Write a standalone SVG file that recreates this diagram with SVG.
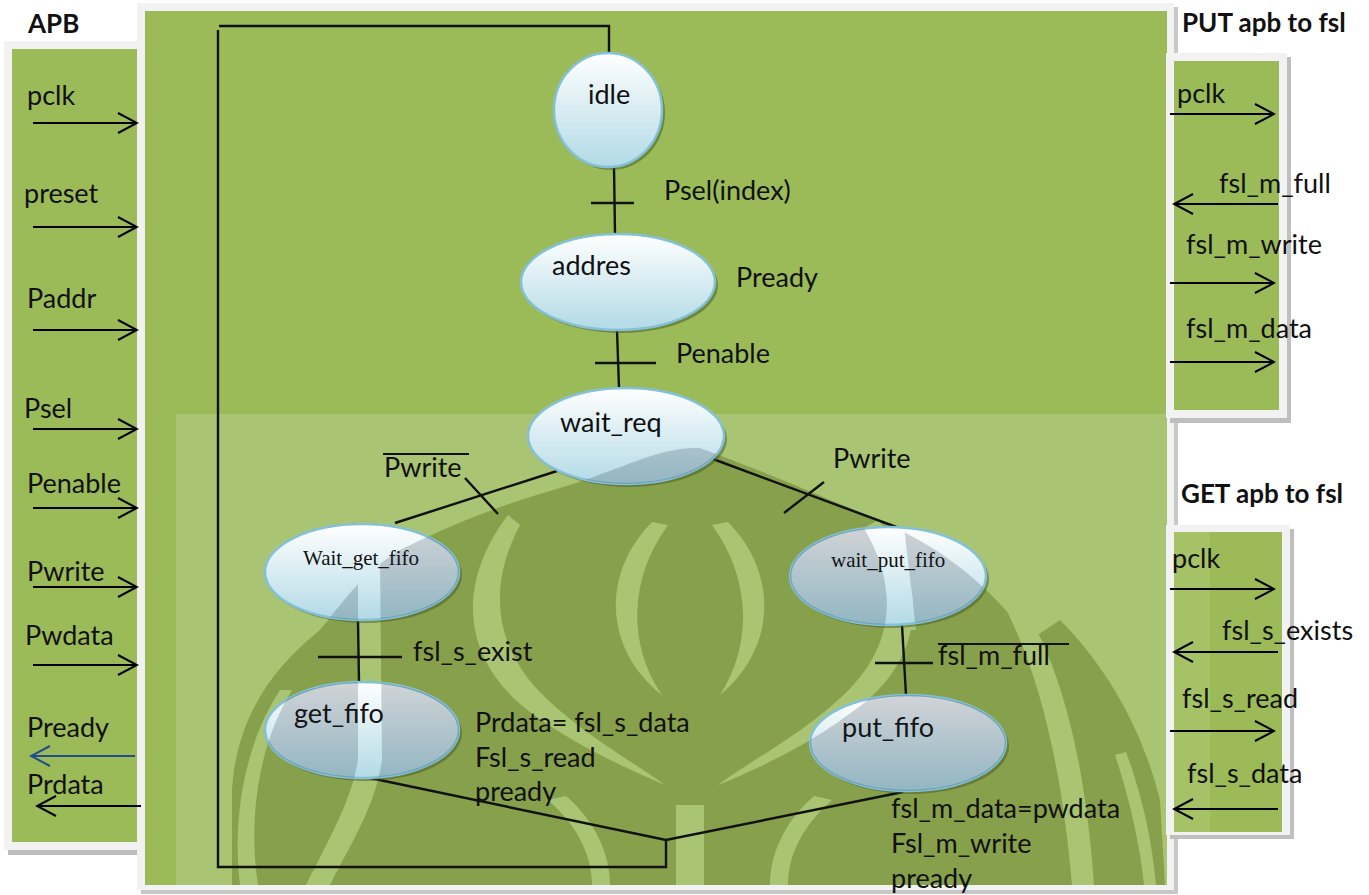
<svg xmlns="http://www.w3.org/2000/svg" width="1369" height="895" viewBox="0 0 1369 895">
  <defs>
    <style>
      .lbl{font-family:Lato,'Liberation Sans',sans-serif;font-size:27px;fill:#111}
      .ttl{font-family:Lato,'Liberation Sans',sans-serif;font-size:26px;font-weight:bold;fill:#111}
      .ser{font-family:'Liberation Serif','Times New Roman',serif;font-size:21px;fill:#111}
      .wire{stroke:#111;stroke-width:2.4;fill:none}
      .sig{stroke:#000;stroke-width:2;fill:none;marker-end:url(#arrowBlack)}
      .sigBlue{stroke:#1f4e8c;stroke-width:2;fill:none;marker-end:url(#arrowBlue)}
      .state{fill:url(#stateFill);stroke:#84c1d7;stroke-width:2.5}
      .shadow{fill:#4c5f26;opacity:.55}
      .over{stroke:#111;stroke-width:2}
    </style>
    <linearGradient id="stateFill" x1="0" y1="0" x2="0" y2="1">
      <stop offset="0" stop-color="#ffffff"/>
      <stop offset="1" stop-color="#b2dae6"/>
    </linearGradient>
    <marker id="arrowBlack" viewBox="-1 -1 22 22" refX="19" refY="10" markerWidth="22" markerHeight="22" markerUnits="userSpaceOnUse" orient="auto">
      <path d="M0,0 L19,10 L0,20" fill="none" stroke="#000" stroke-width="2"/>
    </marker>
    <marker id="arrowBlue" viewBox="-1 -1 22 22" refX="19" refY="10" markerWidth="22" markerHeight="22" markerUnits="userSpaceOnUse" orient="auto">
      <path d="M0,0 L19,10 L0,20" fill="none" stroke="#1f4e8c" stroke-width="2"/>
    </marker>
    <!-- emblem watermark: dark body with light bands cut out -->
    <mask id="wmMask" maskUnits="userSpaceOnUse" x="0" y="0" width="1369" height="895">
      <path fill="#fff" d="M232,885 L232,790 C236,720 270,670 320,630 C345,600 360,575 400,550 C450,525 500,505 560,488 C620,470 660,446 700,448 C760,470 820,495 893,527 C940,548 990,585 1030,640 L1060,620 C1100,660 1140,720 1160,800 L1165,885 Z"/>
      <g fill="#000">
        <!-- central lens outline -->
        <path d="M652,522 C600,575 605,650 662,695 C628,645 628,580 668,525 Z"/>
        <path d="M728,522 C780,575 775,650 720,695 C752,645 752,580 712,525 Z"/>
        <!-- ring bands -->
        <path d="M508,515 C455,585 462,660 530,712 C575,745 625,768 665,785 C630,760 585,735 548,700 C492,648 488,585 520,525 Z"/>
        <path d="M878,520 C935,590 920,665 852,712 C808,745 760,768 718,785 C752,760 800,735 838,700 C895,650 900,590 864,528 Z"/>
        <!-- flame streaks -->
        <path d="M358,560 L380,560 L382,760 C376,805 350,845 330,885 L306,885 C326,845 352,800 358,760 Z"/>
        <path d="M292,690 C258,745 248,820 258,885 L240,885 C232,820 244,745 280,690 Z"/>
        <path d="M1000,598 C1040,670 1062,770 1072,885 L1094,885 C1086,770 1064,670 1022,604 Z"/>
        <path d="M1115,755 C1130,800 1140,845 1144,885 L1156,885 C1152,840 1142,795 1126,752 Z"/>
        <path d="M882,527 L904,527 L916,630 L894,630 Z"/>
        <path d="M676,805 L704,805 L704,885 L676,885 Z"/>
        <path d="M548,800 C580,828 592,858 592,885 L610,885 C610,855 596,822 566,796 Z"/>
        <path d="M832,800 C800,828 788,858 788,885 L770,885 C770,855 784,822 814,796 Z"/>
      </g>
    </mask>
    <clipPath id="lowerStates">
      <ellipse cx="626" cy="436" rx="98" ry="48"/>
      <ellipse cx="362" cy="572" rx="97" ry="48"/>
      <ellipse cx="888" cy="576" rx="98" ry="49"/>
      <ellipse cx="362" cy="730" rx="97" ry="48"/>
      <ellipse cx="908" cy="743" rx="98" ry="48"/>
    </clipPath>
  </defs>

  <rect width="1369" height="895" fill="#ffffff"/>

  <!-- APB side panel -->
  <g id="apb-panel">
    <rect x="8" y="46" width="141" height="809" fill="#bdbdbd"/>
    <rect x="4" y="41" width="141" height="809" fill="#f2f2f2"/>
    <rect x="12" y="49" width="125" height="793" fill="#9bbb59"/>
    <text class="ttl" x="28" y="33">APB</text>
  </g>

  <!-- main controller panel -->
  <g id="main-panel">
    <rect x="141" y="7" width="1037" height="887" fill="#c8c8c8"/>
    <rect x="137" y="3" width="1037" height="887" fill="#f2f2f2"/>
    <rect x="145" y="11" width="1022" height="874" fill="#9bbb59"/>
    <rect x="176" y="414" width="991" height="471" fill="#a9c573"/>
    <rect x="176" y="414" width="991" height="471" fill="#87a04b" mask="url(#wmMask)"/>
  </g>

  <!-- PUT side panel -->
  <g id="put-panel">
    <rect x="1170" y="57" width="121" height="366" fill="#bfbfbf"/>
    <rect x="1166" y="53" width="121" height="365" fill="#f2f2f2"/>
    <rect x="1174" y="61" width="105" height="349" fill="#9bbb59"/>
    <text class="ttl" x="1182" y="32">PUT apb to fsl</text>
  </g>

  <!-- GET side panel -->
  <g id="get-panel">
    <rect x="1170" y="529" width="124" height="310" fill="#bfbfbf"/>
    <rect x="1166" y="525" width="124" height="310" fill="#f2f2f2"/>
    <rect x="1174" y="532" width="108" height="300" fill="#a6c266"/>
    <rect x="1210" y="532" width="72" height="300" fill="#9cba58"/>
    <text class="ttl" x="1181" y="503">GET apb to fsl</text>
  </g>

  <!-- APB port signals -->
  <g id="apb-signals">
    <text class="lbl" x="27" y="105">pclk</text>
    <line class="sig" x1="33" y1="123" x2="137" y2="123"/>
    <text class="lbl" x="24" y="203">preset</text>
    <line class="sig" x1="33" y1="227" x2="137" y2="227"/>
    <text class="lbl" x="27" y="308">Paddr</text>
    <line class="sig" x1="33" y1="330" x2="137" y2="330"/>
    <text class="lbl" x="24" y="418">Psel</text>
    <line class="sig" x1="33" y1="429" x2="137" y2="429"/>
    <text class="lbl" x="27" y="493">Penable</text>
    <line class="sig" x1="33" y1="508" x2="137" y2="508"/>
    <text class="lbl" x="27" y="581">Pwrite</text>
    <line class="sig" x1="33" y1="587" x2="137" y2="587"/>
    <text class="lbl" x="25" y="645">Pwdata</text>
    <line class="sig" x1="33" y1="665" x2="137" y2="665"/>
    <text class="lbl" x="27" y="737">Pready</text>
    <line class="sigBlue" x1="135" y1="756" x2="31" y2="756"/>
    <text class="lbl" x="27" y="794">Prdata</text>
    <line class="sig" x1="141" y1="806" x2="37" y2="806"/>
  </g>

  <!-- FSL master (put) signals -->
  <g id="put-signals">
    <text class="lbl" x="1177" y="103">pclk</text>
    <line class="sig" x1="1170" y1="114" x2="1274" y2="114"/>
    <text class="lbl" x="1219" y="193">fsl_m_full</text>
    <line class="sig" x1="1278" y1="204" x2="1174" y2="204"/>
    <text class="lbl" x="1186" y="254">fsl_m_write</text>
    <line class="sig" x1="1170" y1="283" x2="1274" y2="283"/>
    <text class="lbl" x="1186" y="338">fsl_m_data</text>
    <line class="sig" x1="1170" y1="362" x2="1274" y2="362"/>
  </g>

  <!-- FSL slave (get) signals -->
  <g id="get-signals">
    <text class="lbl" x="1172" y="568">pclk</text>
    <line class="sig" x1="1170" y1="589" x2="1274" y2="589"/>
    <text class="lbl" x="1222" y="640">fsl_s_exists</text>
    <line class="sig" x1="1278" y1="652" x2="1174" y2="652"/>
    <text class="lbl" x="1182" y="708">fsl_s_read</text>
    <line class="sig" x1="1170" y1="731" x2="1274" y2="731"/>
    <text class="lbl" x="1187" y="783">fsl_s_data</text>
    <line class="sig" x1="1278" y1="809" x2="1174" y2="809"/>
  </g>

  <!-- state transitions -->
  <g id="connectors">
    <path class="wire" d="M609,54 L609,26 L219,26 M218,30 L218,867 L666,867 L666,840"/>
    <path class="wire" d="M370,778 L666,840 L903,792"/>
    <line class="wire" x1="614" y1="167" x2="615" y2="233"/>
    <line class="wire" x1="591" y1="203" x2="634" y2="203"/>
    <line class="wire" x1="617" y1="330" x2="619" y2="388"/>
    <line class="wire" x1="595" y1="363" x2="656" y2="363"/>
    <line class="wire" x1="557" y1="471" x2="395" y2="523"/>
    <line class="wire" x1="465" y1="478" x2="498" y2="514"/>
    <line class="wire" x1="713" y1="459" x2="899" y2="528"/>
    <line class="wire" x1="784" y1="513" x2="824" y2="482"/>
    <line class="wire" x1="358" y1="621" x2="359" y2="682"/>
    <line class="wire" x1="318" y1="657" x2="402" y2="657"/>
    <line class="wire" x1="902" y1="625" x2="906" y2="695"/>
    <line class="wire" x1="875" y1="663" x2="933" y2="663"/>
  </g>

  <!-- transition conditions and state actions -->
  <g id="conditions">
    <text class="lbl" x="664" y="200">Psel(index)</text>
    <text class="lbl" x="736" y="287">Pready</text>
    <text class="lbl" x="676" y="363">Penable</text>
    <text class="lbl" x="384" y="477">Pwrite</text>
    <line class="over" x1="383" y1="454" x2="469" y2="454"/>
    <text class="lbl" x="833" y="468">Pwrite</text>
    <text class="lbl" x="413" y="661">fsl_s_exist</text>
    <text class="lbl" x="938" y="665">fsl_m_full</text>
    <line class="over" x1="938" y1="644" x2="1069" y2="644"/>
    <text class="lbl" x="475" y="732">Prdata= fsl_s_data</text>
    <text class="lbl" x="475" y="767">Fsl_s_read</text>
    <text class="lbl" x="475" y="801">pready</text>
    <text class="lbl" x="891" y="818">fsl_m_data=pwdata</text>
    <text class="lbl" x="891" y="853">Fsl_m_write</text>
    <text class="lbl" x="891" y="888">pready</text>
  </g>

  <!-- states -->
  <g id="idle">
    <ellipse class="shadow" cx="611" cy="113" rx="54" ry="57"/>
    <ellipse class="state" cx="608" cy="110" rx="54" ry="57"/>
    <text class="lbl" x="588" y="104">idle</text>
  </g>
  <g id="addres">
    <ellipse class="shadow" cx="621" cy="285" rx="97" ry="48"/>
    <ellipse class="state" cx="618" cy="282" rx="97" ry="48"/>
    <text class="lbl" x="552" y="275">addres</text>
  </g>
  <g id="wait_req">
    <ellipse class="shadow" cx="629" cy="439" rx="98" ry="48"/>
    <ellipse class="state" cx="626" cy="436" rx="98" ry="48"/>
    <text class="lbl" x="560" y="432">wait_req</text>
  </g>
  <g id="wait_get_fifo">
    <ellipse class="shadow" cx="365" cy="575" rx="97" ry="48"/>
    <ellipse class="state" cx="362" cy="572" rx="97" ry="48"/>
    <text class="ser" x="303" y="565">Wait_get_fifo</text>
  </g>
  <g id="wait_put_fifo">
    <ellipse class="shadow" cx="891" cy="579" rx="98" ry="49"/>
    <ellipse class="state" cx="888" cy="576" rx="98" ry="49"/>
    <text class="ser" x="831" y="567">wait_put_fifo</text>
  </g>
  <g id="get_fifo">
    <ellipse class="shadow" cx="365" cy="733" rx="97" ry="48"/>
    <ellipse class="state" cx="362" cy="730" rx="97" ry="48"/>
    <text class="lbl" x="294" y="723">get_fifo</text>
  </g>
  <g id="put_fifo">
    <ellipse class="shadow" cx="911" cy="746" rx="98" ry="48"/>
    <ellipse class="state" cx="908" cy="743" rx="98" ry="48"/>
    <text class="lbl" x="842" y="737">put_fifo</text>
  </g>

  <!-- emblem watermark shading over the lower states -->
  <g id="watermark-tint" clip-path="url(#lowerStates)">
    <rect x="176" y="414" width="991" height="471" fill="#1a2a3a" opacity="0.2" mask="url(#wmMask)"/>
  </g>
</svg>
